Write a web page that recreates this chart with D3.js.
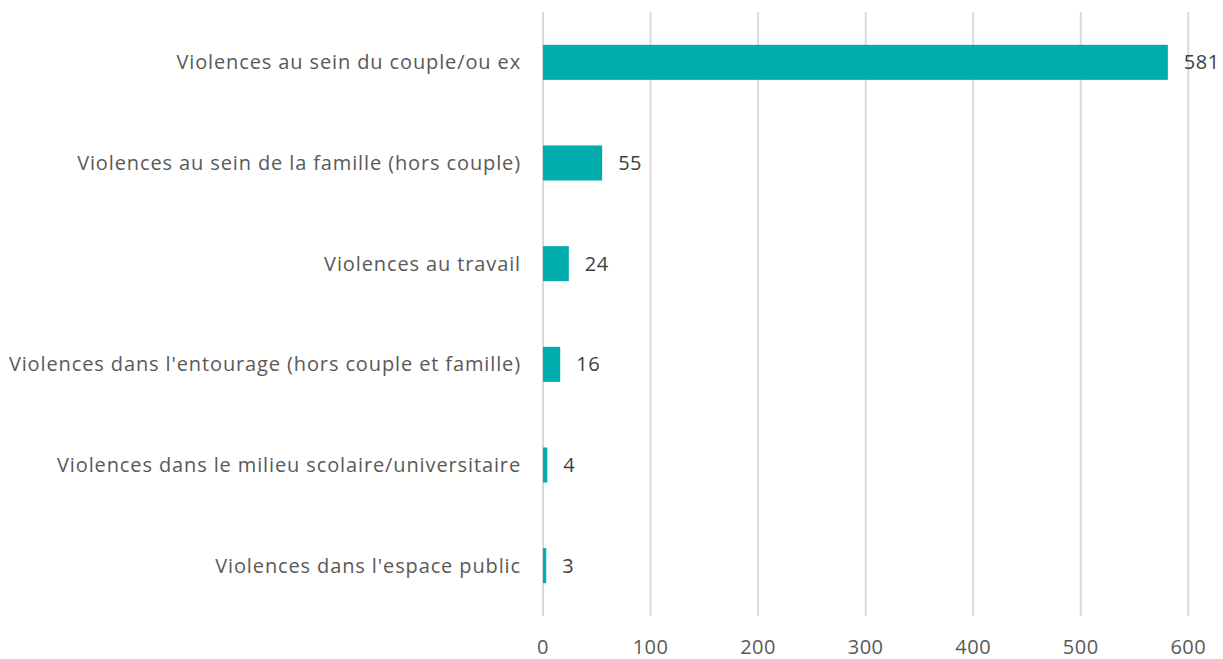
<!DOCTYPE html>
<html><head><meta charset="utf-8">
<script src="https://cdn.jsdelivr.net/npm/d3@7"></script>
<style>body{margin:0;background:#fff}svg{display:block}</style>
</head><body>
<svg id="c" width="1223" height="659"></svg>
<script>
const categories = [
  "Violences au sein du couple/ou ex",
  "Violences au sein de la famille (hors couple)",
  "Violences au travail",
  "Violences dans l'entourage (hors couple et famille)",
  "Violences dans le milieu scolaire/universitaire",
  "Violences dans l'espace public"
];
const values = [581, 55, 24, 16, 4, 3];
const tickValues = [0, 100, 200, 300, 400, 500, 600];

const svg = d3.select("#c");
const font = "'Open Sans', sans-serif";
const x = d3.scaleLinear().domain([0, 600]).range([543, 1188.3]);
const y = d3.scaleBand().domain(categories).range([12, 616]).paddingInner(0.652).paddingOuter(0.326);

svg.append("g").selectAll("line").data(tickValues).join("line")
  .attr("x1", d => x(d)).attr("x2", d => x(d))
  .attr("y1", 12).attr("y2", 616)
  .attr("stroke", "#d9d9d9").attr("stroke-width", 2);

svg.append("g").selectAll("rect").data(values).join("rect")
  .attr("x", x(0)).attr("y", (d, i) => y(categories[i]))
  .attr("width", d => x(d) - x(0)).attr("height", y.bandwidth())
  .attr("fill", "#00ACAC");

svg.append("g").selectAll("text").data(values).join("text")
  .attr("x", d => x(d) + 16).attr("y", (d, i) => y(categories[i]) + y.bandwidth() / 2)
  .attr("dy", "0.35em").attr("fill", "#404040")
  .style("font-family", font).style("font-size", "20px").style("letter-spacing", "0.5px")
  .text(d => d);

svg.append("g").selectAll("text").data(categories).join("text")
  .attr("x", 521).attr("y", d => y(d) + y.bandwidth() / 2)
  .attr("dy", "0.35em").attr("text-anchor", "end").attr("fill", "#595959")
  .style("font-family", font).style("font-size", "20px").style("letter-spacing", "0.88px")
  .text(d => d);

svg.append("g").selectAll("text").data(tickValues).join("text")
  .attr("x", d => x(d)).attr("y", 647)
  .attr("dy", "0.35em").attr("text-anchor", "middle").attr("fill", "#595959")
  .style("font-family", font).style("font-size", "20px").style("letter-spacing", "0.5px")
  .text(d => d);
</script>
</body></html>
